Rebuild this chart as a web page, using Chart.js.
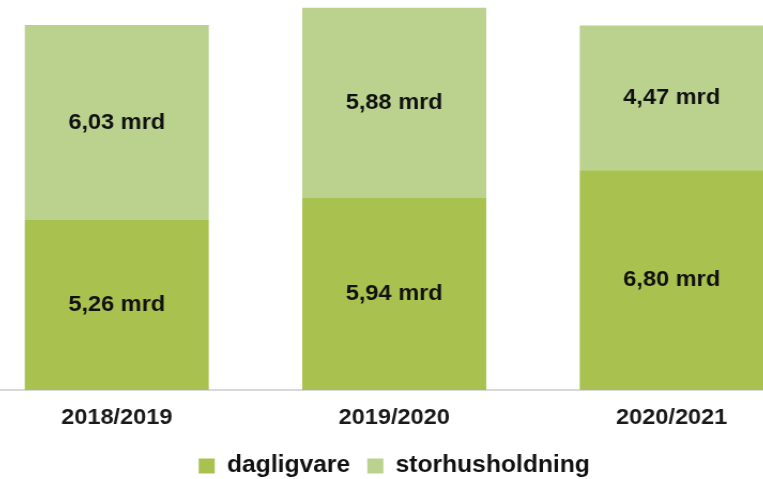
<!DOCTYPE html>
<html>
<head>
<meta charset="utf-8">
<script src="https://cdn.jsdelivr.net/npm/chart.js@4/dist/chart.umd.min.js"></script>
<style>
  html, body { margin: 0; padding: 0; background: #fff; overflow: hidden; }
  .wrap { position: relative; width: 763px; height: 479px; overflow: hidden; }
  /* the source picture is a little stretched sideways */
  .chart-box { position: absolute; left: -22px; top: 0; width: 778px; height: 479px;
               transform: scaleX(1.07); transform-origin: 0 0; }
</style>
</head>
<body>
<div class="wrap">
  <div class="chart-box"><canvas id="chart"></canvas></div>
</div>
<script>
// data
const years = ['2018/2019', '2019/2020', '2020/2021'];
const dagligvare = [5.26, 5.94, 6.80];
const storhusholdning = [6.03, 5.88, 4.47];

const FONT = '"Liberation Sans", Arial, sans-serif';

// draws "x,xx mrd" in the middle of every bar segment
const segmentLabels = {
    id: 'segmentLabels',
    afterDatasetsDraw(chart) {
        const ctx = chart.ctx;
        ctx.save();
        ctx.font = 'bold 22px ' + FONT;
        ctx.fillStyle = '#111';
        ctx.textAlign = 'center';
        ctx.textBaseline = 'middle';
        chart.data.datasets.forEach((ds, i) => {
            chart.getDatasetMeta(i).data.forEach((bar, j) => {
                const mid = (bar.y + bar.base) / 2;
                const txt = ds.data[j].toFixed(2).replace('.', ',') + ' mrd';
                ctx.fillText(txt, bar.x, mid);
            });
        });
        ctx.restore();
    }
};

const ctx = document.querySelector('#chart').getContext('2d');

new Chart(ctx, {
    type: 'bar',
    data: {
        labels: years,
        datasets: [
            {
                label: 'dagligvare',
                data: dagligvare,
                backgroundColor: '#a9c14f',
                barPercentage: 0.663,
                categoryPercentage: 1
            },
            {
                label: 'storhusholdning',
                data: storhusholdning,
                backgroundColor: '#bbd28f',
                barPercentage: 0.663,
                categoryPercentage: 1
            }
        ]
    },
    options: {
        responsive: true,
        maintainAspectRatio: false,
        animation: false,
        layout: { padding: { top: 2, bottom: -8.5 } },
        scales: {
            x: {
                stacked: true,
                grid: { display: false },
                border: { color: '#d9d9d9', width: 2 },
                ticks: {
                    color: '#1a1a1a',
                    padding: 7,
                    font: { family: FONT, size: 22, weight: 'bold' }
                }
            },
            y: {
                stacked: true,
                display: false,
                min: 0,
                max: 12
            }
        },
        plugins: {
            legend: {
                position: 'bottom',
                labels: {
                    boxWidth: 15,
                    boxHeight: 15,
                    padding: 16,
                    color: '#111',
                    font: { family: FONT, size: 23, weight: 'bold' }
                }
            },
            tooltip: { enabled: false }
        }
    },
    plugins: [segmentLabels]
});
</script>
</body>
</html>
